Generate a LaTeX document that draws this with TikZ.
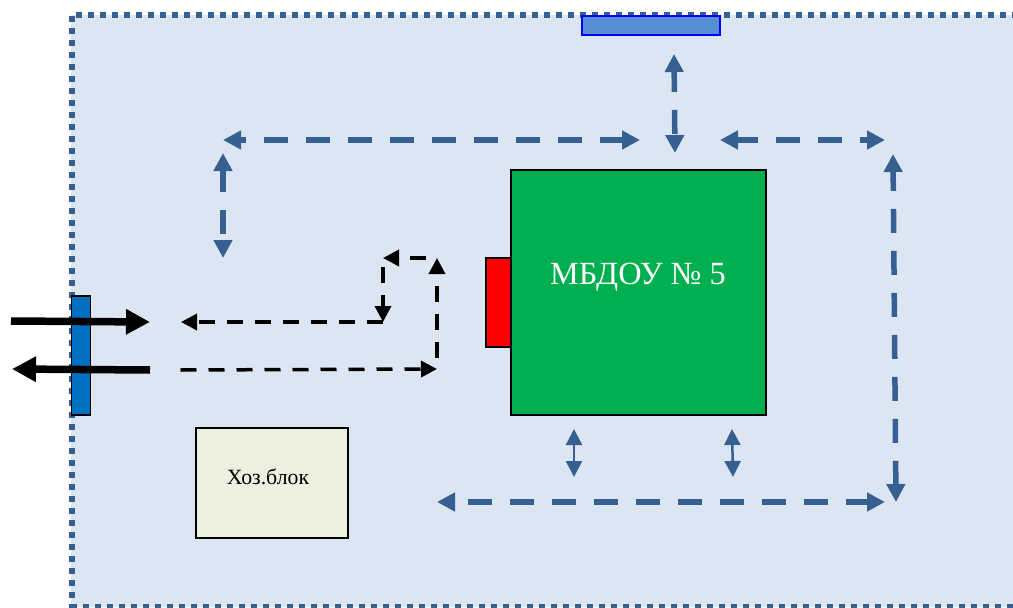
\documentclass[tikz,border=0pt]{standalone}
\usepackage{fontspec}
\setmainfont{Liberation Serif}
\usetikzlibrary{arrows.meta}
\definecolor{framefill}{HTML}{DCE6F2}
\definecolor{steel}{HTML}{376092}
\definecolor{topbar}{HTML}{558ED5}
\definecolor{gate}{HTML}{0070C0}
\definecolor{build}{HTML}{00B050}
\definecolor{shed}{HTML}{EBF1DE}
\tikzset{
  framedots/.style={draw=steel,line width=6pt,dash pattern=on 6pt off 6pt},
  blockbox/.style={draw=black,line width=2pt,inner sep=0pt,outer sep=0pt,anchor=north west},
  routeblue/.style={draw=steel,line width=5.5pt,dash pattern=on 24pt off 18pt,dash phase=#1,{Triangle[length=18pt,width=18pt]}-{Triangle[length=18pt,width=18pt]}},
  shortblue/.style={draw=steel,line width=2.5pt,{Triangle[length=16pt,width=16pt]}-{Triangle[length=16pt,width=16pt]}},
  routeblack/.style={draw=black,line width=3.5pt,dash pattern=on 16pt off 12pt,dash phase=#1,-{Triangle[length=16pt,width=16pt]}},
  entry/.style={draw=black,line width=7.5pt,-{Triangle[length=24pt,width=24pt]}}
}
\begin{document}
\begin{tikzpicture}[x=1pt,y=-1pt]
\useasboundingbox (0,0) rectangle (1013,608);
\fill[framefill] (71,15) rectangle (1013,607);
\draw[framedots] (76,15) -- (1013,15);
\draw[framedots] (71.5,16) -- (71.5,608);
\draw[framedots] (71,607) -- (1013,607);
% blocks
\node[blockbox,draw=blue,fill=topbar,minimum width=138pt,minimum height=19pt] (bar) at (581.5,15.5) {};
\node[blockbox,fill=build,minimum width=255pt,minimum height=245pt] (school) at (510.5,170) {};
\node[blockbox,fill=red,minimum width=25pt,minimum height=89pt] (porch) at (486,258) {};
\node[blockbox,fill=gate,line width=1.5pt,minimum width=19pt,minimum height=119pt] (gatepost) at (71.5,296) {};
\node[blockbox,fill=shed,minimum width=152.5pt,minimum height=110pt] (shedbox) at (195.5,428) {};
\node[text=white,font=\fontsize{32.3}{36}\selectfont] (schoollabel) at (638,277) {МБДОУ № 5};
\node[font=\fontsize{21.8}{24}\selectfont] (shedlabel) at (268,477) {Хоз.блок};
% endpoints
\coordinate (a1) at (223,140); \coordinate (a2) at (640,140);
\coordinate (b1) at (223,153); \coordinate (b2) at (223,258);
\coordinate (c1) at (674,54);  \coordinate (c2) at (675,153);
\coordinate (d1) at (720,140); \coordinate (d2) at (885,140);
\coordinate (e1) at (893,154); \coordinate (e2) at (896,502);
\coordinate (f1) at (437,502); \coordinate (f2) at (885,502);
\coordinate (g1) at (574,429); \coordinate (g2) at (574,477);
\coordinate (h1) at (732,429); \coordinate (h2) at (733,477);
\coordinate (i1) at (383,322); \coordinate (i2) at (181,322);
\coordinate (j1) at (383,258); \coordinate (j2) at (383,322);
\coordinate (k1) at (437,258); \coordinate (k2) at (383,258);
\coordinate (l1) at (437,369); \coordinate (l2) at (437,258);
\coordinate (m1) at (180.5,370); \coordinate (m2) at (437,369);
\coordinate (n1) at (11,321);  \coordinate (n2) at (150,322);
\coordinate (o1) at (150,370); \coordinate (o2) at (12,369);
% blue routes
\draw[routeblue=18pt] (a1) -- (a2);
\draw[routeblue=2pt] (b1) -- (b2);
\draw[routeblue=3pt] (c1) -- (c2);
\draw[routeblue=3pt] (d1) -- (d2);
\draw[routeblue=4pt] (e1) -- (e2);
\draw[routeblue=28pt] (f1) -- (f2);
\draw[shortblue] (g1) -- (g2);
\draw[shortblue] (h1) -- (h2);
% black routes
\draw[routeblack=0pt] (i1) -- (i2);
\draw[routeblack=19pt] (j1) -- (j2);
\draw[routeblack=17pt] (k1) -- (k2);
\draw[routeblack=17pt] (l1) -- (l2);
\draw[routeblack=0pt] (m1) -- (m2);
\draw[entry] (n1) -- (n2);
\draw[entry] (o1) -- (o2);
\end{tikzpicture}
\end{document}
